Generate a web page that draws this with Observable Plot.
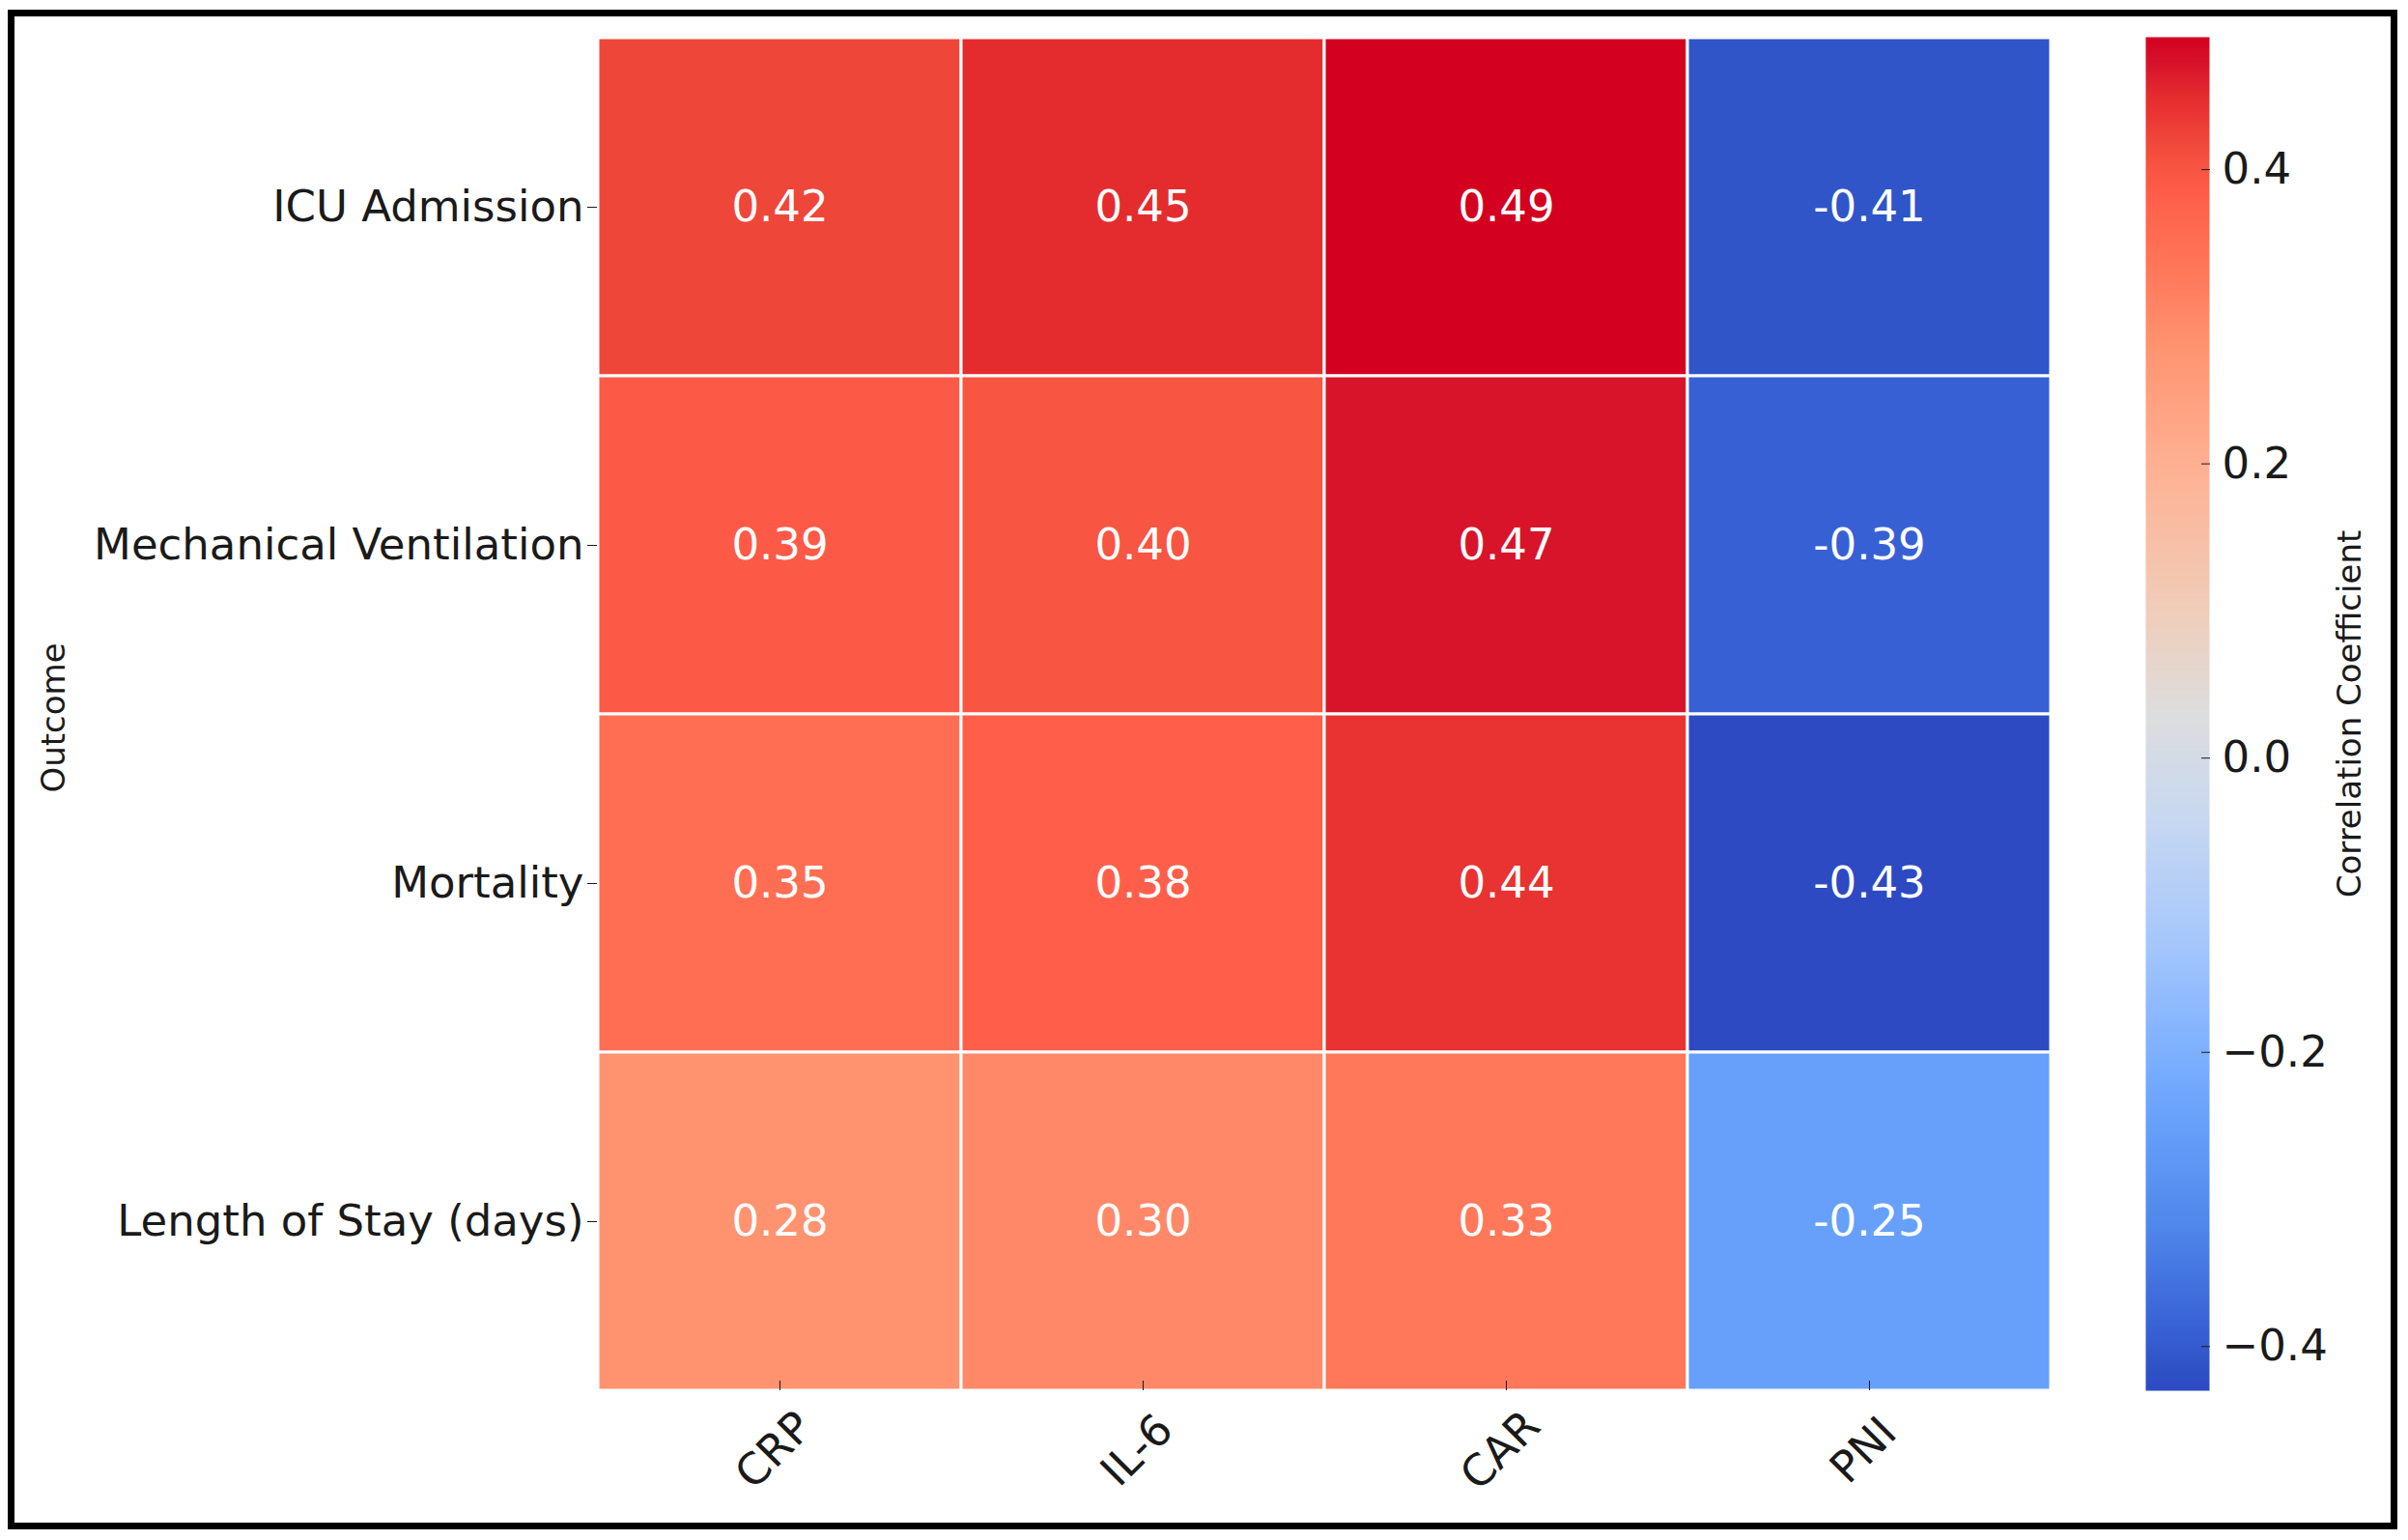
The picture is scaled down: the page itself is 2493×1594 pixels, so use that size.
<!DOCTYPE html>
<html>
<head>
<meta charset="utf-8">
<script src="https://cdn.jsdelivr.net/npm/d3@7"></script>
<script src="https://cdn.jsdelivr.net/npm/@observablehq/plot@0.6"></script>
<style>
  html, body { margin: 0; padding: 0; background: #ffffff; }
  #wrap { position: relative; width: 2493px; height: 1594px; overflow: hidden; background: #fff; font-family: "DejaVu Sans", sans-serif; }
  #frame { position: absolute; left: 8px; top: 10px; width: 2474px; height: 1573px; box-sizing: border-box; border: 7px solid #000; pointer-events: none; }
  #heat { position: absolute; left: 0; top: 0; }
  #bar { position: absolute; left: 2150px; top: 0; }
</style>
</head>
<body>
<div id="wrap">
  <div id="heat"></div>
  <div id="bar"></div>
  <div id="frame"></div>
</div>
<script>
// ---- data ----
const outcomes = ["ICU Admission", "Mechanical Ventilation", "Mortality", "Length of Stay (days)"];
const markers = ["CRP", "IL-6", "CAR", "PNI"];
const crp = [0.42, 0.39, 0.35, 0.28];
const il6 = [0.45, 0.40, 0.38, 0.30];
const car = [0.49, 0.47, 0.44, 0.33];
const pni = [-0.41, -0.39, -0.43, -0.25];
const colorbarTicks = [-0.4, -0.2, 0.0, 0.2, 0.4];
const valueRange = [-0.43, 0.49];

// table built from the arrays
const series = {CRP: crp, "IL-6": il6, CAR: car, PNI: pni};
const table = [];
outcomes.forEach((o, i) => markers.forEach(m => table.push({outcome: o, marker: m, value: series[m][i]})));

// coolwarm-like (saturated) colour stops, as seen in the picture
const stopValues = [-0.43, -0.41, -0.39, -0.32, -0.25, -0.20, -0.12, -0.04, 0.03, 0.10, 0.20, 0.28, 0.30, 0.33, 0.35, 0.38, 0.40, 0.42, 0.44, 0.45, 0.47, 0.49];
const stopColors = ["#2d4ac2", "#3055c8", "#3760d4", "#4f86ea", "#66a0fa", "#7db0ff", "#a8c8fb", "#c8d8f0", "#dddddd", "#f0cdb9", "#ffb092", "#ff9370", "#ff8869", "#ff785a", "#ff6e52", "#ff5f4a", "#f85543", "#ef463a", "#e83332", "#e42c2f", "#d8142b", "#d30020"];
const colorScale = {type: "linear", domain: stopValues, range: stopColors, interpolate: "rgb", clamp: true};

const font = "DejaVu Sans";

const heat = Plot.plot({
  width: 2200, height: 1594,
  marginLeft: 618, marginRight: 76, marginTop: 38, marginBottom: 155,
  style: {fontFamily: font, background: "transparent", color: "#1a1a1a"},
  x: {domain: markers, padding: 0},
  y: {domain: outcomes, padding: 0},
  color: colorScale,
  marks: [
    Plot.cell(table, {x: "marker", y: "outcome", fill: "value", stroke: "white", strokeWidth: 3}),
    Plot.text(table, {x: "marker", y: "outcome", text: d => d.value.toFixed(2), fill: "white", fontSize: 45}),
    Plot.axisY({anchor: "left", tickSize: 10, tickPadding: 4, fontSize: 45, label: null}),
    Plot.axisX({anchor: "bottom", tickSize: 10, dy: -10, tickFormat: () => "", label: null}),
    Plot.axisX({anchor: "bottom", tickSize: 0, tickRotate: -45, textAnchor: "middle", lineAnchor: "middle", tickPadding: 62, dx: -6, fontSize: 45, label: null}),
    Plot.text(["Outcome"], {frameAnchor: "left", textAnchor: "middle", dx: -562, dy: 4, rotate: -90, fontSize: 34, fill: "#1a1a1a"})
  ]
});
document.getElementById("heat").appendChild(heat);

const bar = Plot.plot({
  width: 343, height: 1594,
  marginLeft: 71, marginRight: 206, marginTop: 38, marginBottom: 155,
  style: {fontFamily: font, background: "transparent", color: "#1a1a1a"},
  x: {domain: [0, 1], axis: null},
  y: {domain: valueRange},
  color: colorScale,
  marks: [
    Plot.raster({x1: 0, x2: 1, y1: valueRange[0], y2: valueRange[1], width: 2, height: 1401, fill: (x, y) => y, imageRendering: "pixelated"}),
    Plot.axisY({anchor: "right", ticks: colorbarTicks, tickSize: 9, dx: -9, tickPadding: 13, tickFormat: d3.format(".1f"), fontSize: 45, label: null}),
    Plot.text(["Correlation Coefficient"], {frameAnchor: "right", textAnchor: "middle", dx: 146, rotate: -90, fontSize: 34, fill: "#1a1a1a"})
  ]
});
document.getElementById("bar").appendChild(bar);
</script>
</body>
</html>
